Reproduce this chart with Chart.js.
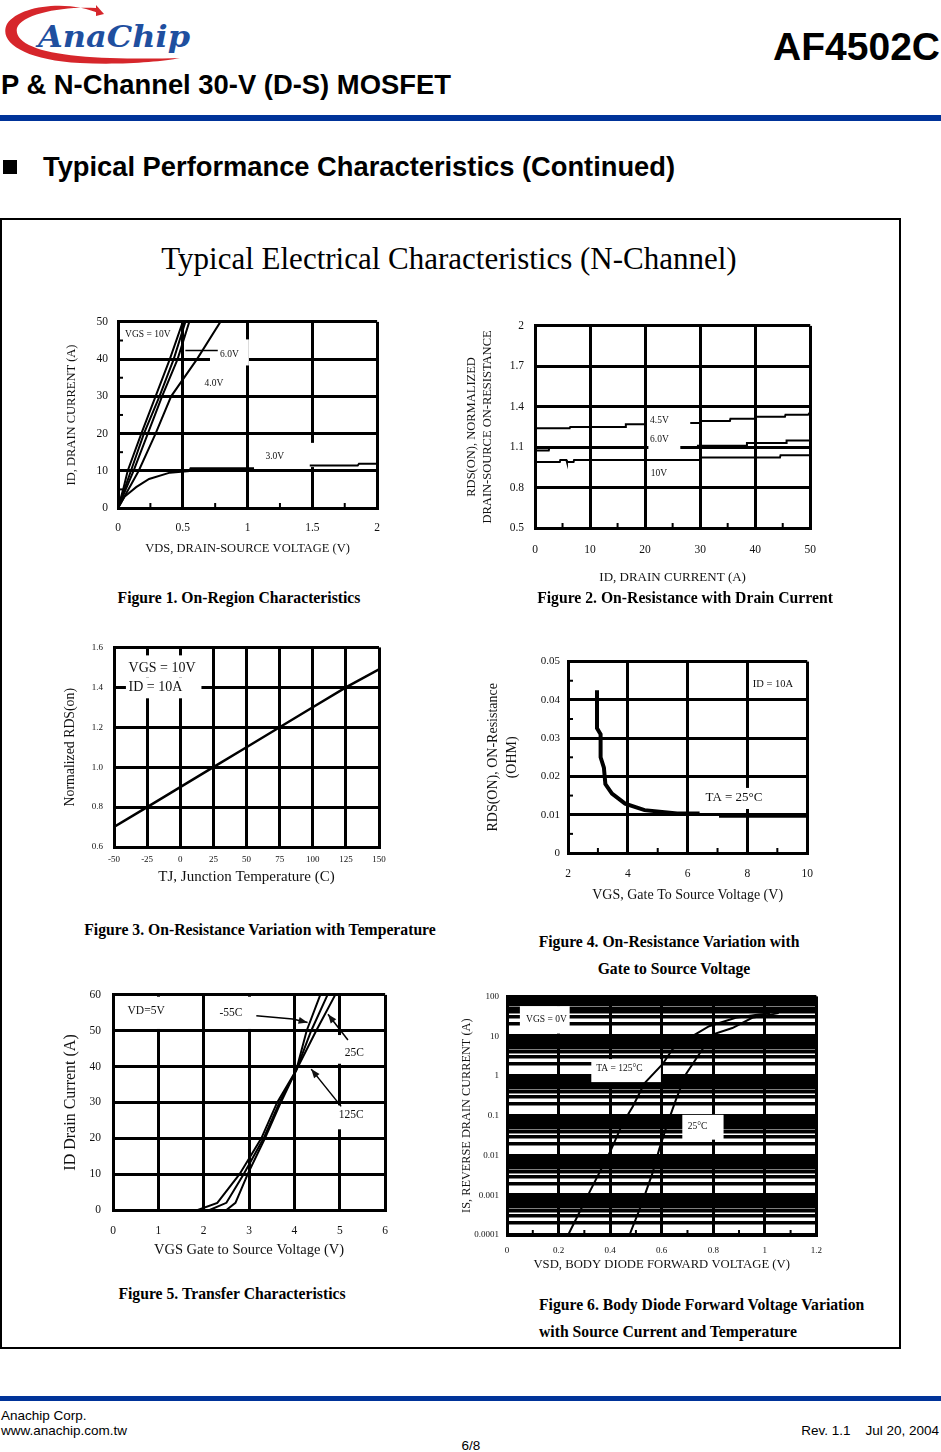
<!DOCTYPE html>
<html>
<head>
<meta charset="utf-8">
<script src="https://cdn.jsdelivr.net/npm/chart.js@4.4.0/dist/chart.umd.min.js"></script>
<style>
  body { margin: 0; width: 941px; height: 1452px; position: relative; background: #fff; overflow: hidden;
         font-family: "Liberation Sans", Arial, sans-serif; color: #000; }
  .abs { position: absolute; white-space: nowrap; }
  canvas { position: absolute; }
  .hd { font-weight: bold; line-height: 1; }
  .cap { position: absolute; white-space: nowrap; font-family: "Liberation Serif", serif; font-weight: bold;
         font-size: 15.7px; line-height: 1; transform: translate(-50%, -50%); }
  .capl { position: absolute; white-space: nowrap; font-family: "Liberation Serif", serif; font-weight: bold;
          font-size: 15.7px; line-height: 1; transform: translateY(-50%); }
  .ft { font-size: 13.5px; line-height: 15px; }
</style>
</head>
<body>

<!-- header -->
<svg class="abs" style="left:0;top:0" width="200" height="70">
  <path d="M100,14 C72,0 20,4 7,24 C-2,42 24,60 80,63 C120,65 160,62 180,58 C150,59 110,59 78,56 C36,52 14,42 17,28 C22,14 62,6 96,8 Z" fill="#d6262b"/>
  <path d="M96,5 L104,14 L96,16 Z" fill="#d6262b"/>
  <text x="38" y="47" font-family="DejaVu Serif" font-style="italic" font-weight="bold" font-size="30" fill="#1f4f9f" textLength="152" lengthAdjust="spacingAndGlyphs">AnaChip</text>
</svg>
<div class="abs hd" style="right:1px;top:27px;font-size:39px">AF4502C</div>
<div class="abs hd" style="left:1px;top:71px;font-size:27.4px">P &amp; N-Channel 30-V (D-S) MOSFET</div>
<div class="abs" style="left:0;top:115px;width:941px;height:6px;background:#003399"></div>
<div class="abs" style="left:3px;top:160px;width:14px;height:14px;background:#000"></div>
<div class="abs hd" style="left:43px;top:153px;font-size:27.3px">Typical Performance Characteristics (Continued)</div>

<!-- figure frame -->
<div class="abs" style="left:0;top:218px;width:897px;height:1127px;border:2px solid #000"></div>
<div class="abs" style="left:449px;top:258px;transform:translate(-50%,-50%);font-family:'Liberation Serif',serif;font-size:31px;line-height:1">Typical Electrical Characteristics (N-Channel)</div>

<canvas id="c1"></canvas>
<canvas id="c2"></canvas>
<canvas id="c3"></canvas>
<canvas id="c4"></canvas>
<canvas id="c5"></canvas>
<canvas id="c6"></canvas>

<div class="cap" style="left:239px;top:598px">Figure 1. On-Region Characteristics</div>
<div class="cap" style="left:685px;top:598px">Figure 2. On-Resistance with Drain Current</div>
<div class="cap" style="left:260px;top:930px">Figure 3. On-Resistance Variation with Temperature</div>
<div class="cap" style="left:669px;top:942px">Figure 4. On-Resistance Variation with</div>
<div class="cap" style="left:674px;top:969px">Gate to Source Voltage</div>
<div class="cap" style="left:232px;top:1294px">Figure 5. Transfer Characteristics</div>
<div class="capl" style="left:539px;top:1305px">Figure 6. Body Diode Forward Voltage Variation</div>
<div class="capl" style="left:539px;top:1332px">with Source Current and Temperature</div>

<!-- footer -->
<div class="abs" style="left:0;top:1396px;width:941px;height:5px;background:#003399"></div>
<div class="abs ft" style="left:1px;top:1408px">Anachip Corp.</div>
<div class="abs ft" style="left:1px;top:1423px">www.anachip.com.tw</div>
<div class="abs ft" style="right:2px;top:1423px;white-space:pre">Rev. 1.1    Jul 20, 2004</div>
<div class="abs ft" style="left:471px;top:1438px;transform:translateX(-50%)">6/8</div>

<script>
// ---------------- data ----------------

// Figure 1: On-region, VDS (V) -> ID (A) for each gate voltage
var f1Vds10 = [0, 0.04, 0.075, 0.18, 0.29, 0.40, 0.50];
var f1Id10  = [0, 5, 10, 20, 30, 40, 50];
var f1Vds6  = [0, 0.05, 0.10, 0.20, 0.32, 0.43, 0.52];
var f1Id6   = [0, 5, 10, 20, 30, 40, 50];
var f1Vds5  = [0, 0.06, 0.12, 0.23, 0.34, 0.46, 0.55];
var f1Id5   = [0, 5, 10, 20, 30, 40, 50];
var f1Vds4  = [0, 0.08, 0.16, 0.29, 0.41, 0.61, 0.79];
var f1Id4   = [0, 5, 10, 20, 30, 40, 50];
var f1Vds3  = [0, 0.05, 0.14, 0.24, 0.40, 0.55, 0.56, 1.05, 1.25, 1.48, 1.85, 1.86, 2.0];
var f1Id3   = [0, 3, 5.6, 7.8, 9.5, 9.9, 10.7, 10.7, null, 11.4, 11.4, 11.9, 11.9];
var f1XTicks = [0, 0.5, 1, 1.5, 2];
var f1XLabels = ['0', '0.5', '1', '1.5', '2'];
var f1YTicks = [0, 10, 20, 30, 40, 50];
var f1YLabels = ['0', '10', '20', '30', '40', '50'];

// Figure 2: normalized RDS(on) vs ID (A)
var f2Id45 = [0, 6.3, 6.4, 16.4, 16.5, 20.3, 24, 28.2, 30, 30.1, 35.4, 35.5, 40.1, 40.2, 45.4, 45.5, 49.6, 50];
var f2R45  = [1.24, 1.24, 1.25, 1.25, 1.27, 1.27, null, 1.28, 1.28, 1.295, 1.295, 1.31, 1.31, 1.325, 1.325, 1.34, 1.34, 1.36];
var f2Id6  = [0, 2.5, 2.6, 12, 12.1, 20.4, 24, 26.5, 29.5, 29.6, 38.4, 38.5, 45.6, 45.7, 50];
var f2R6   = [1.075, 1.075, 1.095, 1.095, 1.1, 1.1, null, 1.1, 1.1, 1.11, 1.11, 1.13, 1.13, 1.15, 1.15];
var f2Id10 = [0, 4.5, 4.6, 5.7, 5.8, 7, 7.1, 30, 30.1, 44.5, 44.6, 50];
var f2R10  = [0.99, 0.99, 1.005, 1.005, 0.99, 0.99, 1.005, 1.005, 1.024, 1.024, 1.04, 1.04];
var f2XTicks = [0, 10, 20, 30, 40, 50];
var f2XLabels = ['0', '10', '20', '30', '40', '50'];
var f2YTicks = [0.5, 0.8, 1.1, 1.4, 1.7, 2];
var f2YLabels = ['0.5', '0.8', '1.1', '1.4', '1.7', '2'];

// Figure 3: normalized RDS(on) vs junction temperature (C)
var f3Temp = [-50, -25, 0, 25, 50, 75, 100, 125, 150];
var f3Rds  = [0.70, 0.80, 0.90, 1.00, 1.10, 1.20, 1.30, 1.40, 1.49];
var f3XTicks = [-50, -25, 0, 25, 50, 75, 100, 125, 150];
var f3XLabels = ['-50', '-25', '0', '25', '50', '75', '100', '125', '150'];
var f3YTicks = [0.6, 0.8, 1.0, 1.2, 1.4, 1.6];
var f3YLabels = ['0.6', '0.8', '1.0', '1.2', '1.4', '1.6'];

// Figure 4: RDS(on) (ohm) vs VGS (V)
var f4Vgs = [2.97, 2.97, 3.09, 3.09, 3.2, 3.25, 3.47, 3.91, 4.56, 5.65, 6.4, 6.7, 7.05, 10];
var f4Rds = [0.0425, 0.0326, 0.031, 0.025, 0.0223, 0.018, 0.0155, 0.0129, 0.0112, 0.0103, 0.0103, null, 0.0097, 0.0097];
var f4XTicks = [2, 4, 6, 8, 10];
var f4XLabels = ['2', '4', '6', '8', '10'];
var f4YTicks = [0, 0.01, 0.02, 0.03, 0.04, 0.05];
var f4YLabels = ['0', '0.01', '0.02', '0.03', '0.04', '0.05'];

// Figure 5: transfer characteristics, VGS (V) -> ID (A)
var f5VgsM55 = [2.5, 2.7, 2.97, 3.35, 3.7, 4.04, 4.27, 4.57];
var f5IdM55  = [0, 2, 10, 20, 30, 39, 50, 60];
var f5Vgs25  = [2.13, 2.5, 2.88, 3.32, 3.67, 4.04, 4.37, 4.73];
var f5Id25   = [0, 2, 10, 20, 30, 39, 50, 60];
var f5Vgs125 = [1.87, 2.3, 2.79, 3.27, 3.62, 4.04, 4.48, 4.9];
var f5Id125  = [0, 2, 10, 20, 30, 39, 50, 60];
var f5XTicks = [0, 1, 2, 3, 4, 5, 6];
var f5XLabels = ['0', '1', '2', '3', '4', '5', '6'];
var f5YTicks = [0, 10, 20, 30, 40, 50, 60];
var f5YLabels = ['0', '10', '20', '30', '40', '50', '60'];

// Figure 6: body diode, VSD (V) -> IS (A), log axis
var f6Vsd125 = [0.237, 0.269, 0.32, 0.372, 0.404, 0.449, 0.488, 0.533, 0.604, 0.642, 0.719, 0.784, 0.887, 0.977, 1.02];
var f6Is125  = [0.0001, 0.00026, 0.0012, 0.0055, 0.014, 0.065, 0.17, 0.65, 2.0, 4.7, 10, 17.8, 29, 35, 37];
var f6Vsd25  = [0.475, 0.52, 0.565, 0.59, 0.623, 0.655, 0.694, 0.745, 0.797, 0.874, 0.951, 1.054];
var f6Is25   = [0.0001, 0.00055, 0.0037, 0.014, 0.065, 0.25, 1.1, 3.5, 11, 16, 29, 38];
var f6XTicks = [0, 0.2, 0.4, 0.6, 0.8, 1, 1.2];
var f6XLabels = ['0', '0.2', '0.4', '0.6', '0.8', '1', '1.2'];
var f6YTicks = [0.0001, 0.001, 0.01, 0.1, 1, 10, 100];
var f6YLabels = ['0.0001', '0.001', '0.01', '0.1', '1', '10', '100'];

// ---------------- drawing ----------------
var SERIF = '"Liberation Serif", "Times New Roman", serif';
Chart.defaults.font.family = SERIF;
Chart.defaults.color = '#111';
Chart.defaults.animation = false;
Chart.defaults.plugins.legend.display = false;
Chart.defaults.plugins.tooltip.enabled = false;

function pts(xs, ys) {
    return xs.map(function (x, i) { return {x: x, y: ys[i]}; });
}

function curve(xs, ys, w) {
    return {data: pts(xs, ys), borderColor: '#000', borderWidth: w || 2, pointRadius: 0,
            fill: false, tension: 0, spanGaps: false};
}

function labeler(vals, labels) {
    return function (v) {
        for (var i = 0; i < vals.length; i++) {
            if (Math.abs(vals[i] - v) <= 1e-9 * Math.max(1, Math.abs(v))) return labels[i];
        }
        return '';
    };
}

// labels, white boxes, arrows and small inner ticks, keyed by canvas id
var NOTES = {};

var notesPlugin = {
    id: 'notes',
    beforeDatasetsDraw: function (chart) {
        var n = NOTES[chart.canvas.id];
        if (!n || !n.boxes) return;
        var ctx = chart.ctx, xs = chart.scales.x, ys = chart.scales.y;
        ctx.save();
        ctx.fillStyle = '#fff';
        n.boxes.forEach(function (b) {
            var x1 = xs.getPixelForValue(b[0]), y1 = ys.getPixelForValue(b[1]);
            var x2 = xs.getPixelForValue(b[2]), y2 = ys.getPixelForValue(b[3]);
            ctx.fillRect(Math.min(x1, x2), Math.min(y1, y2), Math.abs(x2 - x1), Math.abs(y2 - y1));
        });
        ctx.restore();
    },
    afterDatasetsDraw: function (chart) {
        var n = NOTES[chart.canvas.id];
        if (!n) return;
        var ctx = chart.ctx, xs = chart.scales.x, ys = chart.scales.y, a = chart.chartArea;
        ctx.save();
        ctx.fillStyle = '#111';
        ctx.strokeStyle = '#000';
        ctx.textBaseline = 'middle';
        (n.texts || []).forEach(function (t) {
            ctx.font = (t.bold ? 'bold ' : '') + t.size + 'px ' + SERIF;
            ctx.textAlign = t.align || 'center';
            ctx.fillText(t.t, xs.getPixelForValue(t.x), ys.getPixelForValue(t.y));
        });
        ctx.lineWidth = 1.5;
        (n.arrows || []).forEach(function (ar) {
            var p = ar.map(function (q) { return [xs.getPixelForValue(q[0]), ys.getPixelForValue(q[1])]; });
            ctx.beginPath();
            ctx.moveTo(p[0][0], p[0][1]);
            for (var i = 1; i < p.length; i++) ctx.lineTo(p[i][0], p[i][1]);
            ctx.stroke();
            var e = p[p.length - 1], s = p[p.length - 2];
            var ang = Math.atan2(e[1] - s[1], e[0] - s[0]);
            ctx.beginPath();
            ctx.moveTo(e[0], e[1]);
            ctx.lineTo(e[0] - 9 * Math.cos(ang) + 3.5 * Math.sin(ang), e[1] - 9 * Math.sin(ang) - 3.5 * Math.cos(ang));
            ctx.lineTo(e[0] - 9 * Math.cos(ang) - 3.5 * Math.sin(ang), e[1] - 9 * Math.sin(ang) + 3.5 * Math.cos(ang));
            ctx.closePath();
            ctx.fill();
        });
        (n.lines || []).forEach(function (l) {
            ctx.beginPath();
            ctx.moveTo(xs.getPixelForValue(l[0]), ys.getPixelForValue(l[1]));
            ctx.lineTo(xs.getPixelForValue(l[2]), ys.getPixelForValue(l[3]));
            ctx.stroke();
        });
        ctx.lineWidth = 2;
        (n.minorX || []).forEach(function (v) {
            var px = xs.getPixelForValue(v);
            ctx.beginPath(); ctx.moveTo(px, a.bottom); ctx.lineTo(px, a.bottom - 5); ctx.stroke();
        });
        (n.minorY || []).forEach(function (v) {
            var py = ys.getPixelForValue(v);
            ctx.beginPath(); ctx.moveTo(a.left, py); ctx.lineTo(a.left + 5, py); ctx.stroke();
        });
        ctx.restore();
    }
};
Chart.register(notesPlugin);

function axis(vals, labels, o) {
    return {
        type: o.log ? 'logarithmic' : 'linear',
        min: vals[0],
        max: vals[vals.length - 1],
        afterBuildTicks: function (s) {
            s.ticks = (o.grid || vals).map(function (v) { return {value: v}; });
        },
        grid: {color: '#000', lineWidth: o.gw || 3, drawTicks: false},
        border: {color: '#000', width: 3},
        ticks: {autoSkip: false, maxRotation: 0, minRotation: 0, padding: o.pad, color: '#111',
                font: {size: o.fs}, callback: labeler(vals, labels)},
        title: {display: true, text: o.title, color: '#111', font: {size: o.tfs, lineHeight: o.tlh || 1.2}}
    };
}

// area = plot rectangle on the page [l, t, r, b]; m = room around it [l, t, r, b]
function makeChart(id, area, m, spec) {
    var cv = document.getElementById(id);
    var W = area[2] - area[0] + m[0] + m[2];
    var H = area[3] - area[1] + m[1] + m[3];
    var cl = area[0] - m[0], ct = area[1] - m[1];
    cv.width = W; cv.height = H;
    cv.style.left = cl + 'px'; cv.style.top = ct + 'px';
    cv.style.width = W + 'px'; cv.style.height = H + 'px';

    var xa = spec.x, ya = spec.y;
    xa.afterFit = function (s) { s.height = m[3]; };
    ya.afterFit = function (s) { s.width = m[0]; };
    var xlh = xa.title.font.size * xa.title.font.lineHeight;
    var ylh = ya.title.font.size * ya.title.font.lineHeight;
    xa.title.padding = {top: 0, bottom: (ct + H) - spec.xTitleY - xlh / 2};
    ya.title.padding = {top: spec.yTitleX - cl - ylh / 2, bottom: 0};

    return new Chart(cv, {
        type: 'line',
        data: {datasets: spec.datasets},
        options: {
            responsive: false,
            layout: {padding: {left: 0, top: m[1], right: m[2], bottom: 0}},
            scales: {x: xa, y: ya}
        }
    });
}

// ---- Figure 1
NOTES.c1 = {
    boxes: [[0.71, 38.3, 1.01, 45.3], [1.06, 11.0, 1.52, 17.5]],
    texts: [
        {x: 0.23, y: 46.5, t: 'VGS = 10V', size: 9.5},
        {x: 0.86, y: 41.3, t: '6.0V', size: 9.5},
        {x: 0.74, y: 33.4, t: '4.0V', size: 9.5},
        {x: 1.21, y: 13.8, t: '3.0V', size: 9.5}
    ],
    lines: [[0.52, 42.3, 0.77, 42.3]],
    minorX: [0.25, 0.75, 1.25, 1.75],
    minorY: [5, 15, 25, 35, 45]
};
makeChart('c1', [118, 315, 379, 508], [64, 10, 14, 60], {
    x: axis(f1XTicks, f1XLabels, {pad: 13, fs: 11.5, title: 'VDS, DRAIN-SOURCE VOLTAGE (V)', tfs: 12.5}),
    y: axis(f1YTicks, f1YLabels, {pad: 10, fs: 11.5, title: 'ID, DRAIN CURRENT (A)', tfs: 12.5}),
    xTitleY: 549, yTitleX: 72,
    datasets: [curve(f1Vds10, f1Id10), curve(f1Vds6, f1Id6), curve(f1Vds5, f1Id5),
               curve(f1Vds4, f1Id4), curve(f1Vds3, f1Id3)]
});

// ---- Figure 2
NOTES.c2 = {
    boxes: [[20.6, 1.06, 26.4, 1.36]],
    texts: [
        {x: 22.6, y: 1.30, t: '4.5V', size: 9.5},
        {x: 22.6, y: 1.16, t: '6.0V', size: 9.5},
        {x: 22.5, y: 0.905, t: '10V', size: 9.5}
    ],
    minorX: [5, 15, 25, 35, 45]
};
makeChart('c2', [535, 318, 815, 528], [76, 10, 16, 62], {
    x: axis(f2XTicks, f2XLabels, {pad: 15, fs: 11.5, title: 'ID, DRAIN CURRENT (A)', tfs: 13}),
    y: axis(f2YTicks, f2YLabels, {pad: 11, fs: 11.5, title: ['RDS(ON), NORMALIZED', 'DRAIN-SOURCE ON-RESISTANCE'], tfs: 12.5, tlh: 1.28}),
    xTitleY: 578, yTitleX: 472,
    datasets: [curve(f2Id45, f2R45), curve(f2Id6, f2R6), curve(f2Id10, f2R10)]
});

// ---- Figure 3
NOTES.c3 = {
    boxes: [[-48, 1.45, 16, 1.56], [-41, 1.345, 16, 1.45]],
    texts: [
        {x: -39, y: 1.497, t: 'VGS = 10V', size: 14, align: 'left'},
        {x: -39, y: 1.40, t: 'ID = 10A', size: 14, align: 'left'}
    ]
};
makeChart('c3', [114, 643, 379, 847], [58, 12, 16, 42], {
    x: axis(f3XTicks, f3XLabels, {pad: 7, fs: 9, title: 'TJ, Junction Temperature (C)', tfs: 15}),
    y: axis(f3YTicks, f3YLabels, {pad: 11, fs: 9, title: 'Normalized RDS(on)', tfs: 13.8}),
    xTitleY: 877, yTitleX: 70,
    datasets: [curve(f3Temp, f3Rds, 2.5)]
});

// ---- Figure 4
NOTES.c4 = {
    boxes: [[6.6, 0.0115, 8.5, 0.017]],
    texts: [
        {x: 8.85, y: 0.0442, t: 'ID = 10A', size: 10.5},
        {x: 7.55, y: 0.0146, t: 'TA = 25°C', size: 13}
    ],
    minorX: [3, 5, 7, 9],
    minorY: [0.005, 0.015, 0.025, 0.035, 0.045]
};
makeChart('c4', [568, 659, 813, 853], [90, 12, 14, 54], {
    x: axis(f4XTicks, f4XLabels, {pad: 14, fs: 11.5, title: 'VGS, Gate To Source Voltage (V)', tfs: 14}),
    y: axis(f4YTicks, f4YLabels, {pad: 8, fs: 11, title: ['RDS(ON), ON-Resistance', '(OHM)'], tfs: 14, tlh: 1.36}),
    xTitleY: 895, yTitleX: 493,
    datasets: [curve(f4Vgs, f4Rds, 4)]
});

// ---- Figure 5
NOTES.c5 = {
    boxes: [[0.3, 50.5, 1.15, 59.5], [2.2, 50.5, 3.1, 59.5], [4.95, 40.8, 5.6, 48.8], [4.95, 22.5, 5.6, 29.2]],
    texts: [
        {x: 0.73, y: 55.5, t: 'VD=5V', size: 11.5},
        {x: 2.6, y: 55, t: '-55C', size: 11.5},
        {x: 5.32, y: 43.8, t: '25C', size: 11.5},
        {x: 5.25, y: 26.6, t: '125C', size: 11.5}
    ],
    arrows: [
        [[3.16, 54.2], [3.96, 53.3], [4.29, 52.3]],
        [[5.18, 47.4], [4.74, 54.6]],
        [[5.03, 28.9], [4.37, 39.3]]
    ]
};
makeChart('c5', [113, 988, 386, 1210], [56, 12, 16, 52], {
    x: axis(f5XTicks, f5XLabels, {pad: 14, fs: 11.5, title: 'VGS Gate to Source Voltage (V)', tfs: 14.5}),
    y: axis(f5YTicks, f5YLabels, {pad: 12, fs: 11.5, title: 'ID Drain Current (A)', tfs: 16}),
    xTitleY: 1250, yTitleX: 71,
    datasets: [curve(f5VgsM55, f5IdM55), curve(f5Vgs25, f5Id25), curve(f5Vgs125, f5Id125)]
});

// ---- Figure 6 (log grid: every 1..9 step of each decade)
var f6Grid = [];
for (var d = 0; d < f6YTicks.length - 1; d++) {
    for (var k = 1; k <= 9; k++) f6Grid.push(f6YTicks[d] * k);
}
f6Grid.push(f6YTicks[f6YTicks.length - 1]);

NOTES.c6 = {
    boxes: [[0.05, 11.6, 0.243, 57], [0.327, 0.7, 0.597, 2.65], [0.68, 0.025, 0.84, 0.105]],
    texts: [
        {x: 0.153, y: 26, t: 'VGS = 0V', size: 9.5},
        {x: 0.436, y: 1.5, t: 'TA = 125°C', size: 9.5},
        {x: 0.739, y: 0.054, t: '25°C', size: 9.5}
    ],
    minorX: [0.1, 0.3, 0.5, 0.7, 0.9, 1.1]
};
makeChart('c6', [507, 993, 818, 1235], [50, 10, 14, 42], {
    x: axis(f6XTicks, f6XLabels, {pad: 10, fs: 9, title: 'VSD, BODY DIODE FORWARD VOLTAGE (V)', tfs: 12.7}),
    y: axis(f6YTicks, f6YLabels, {log: true, grid: f6Grid, gw: 3.5, pad: 8, fs: 9, title: 'IS, REVERSE DRAIN CURRENT (A)', tfs: 12.3}),
    xTitleY: 1265, yTitleX: 467,
    datasets: [curve(f6Vsd125, f6Is125), curve(f6Vsd25, f6Is25)]
});
</script>
</body>
</html>
